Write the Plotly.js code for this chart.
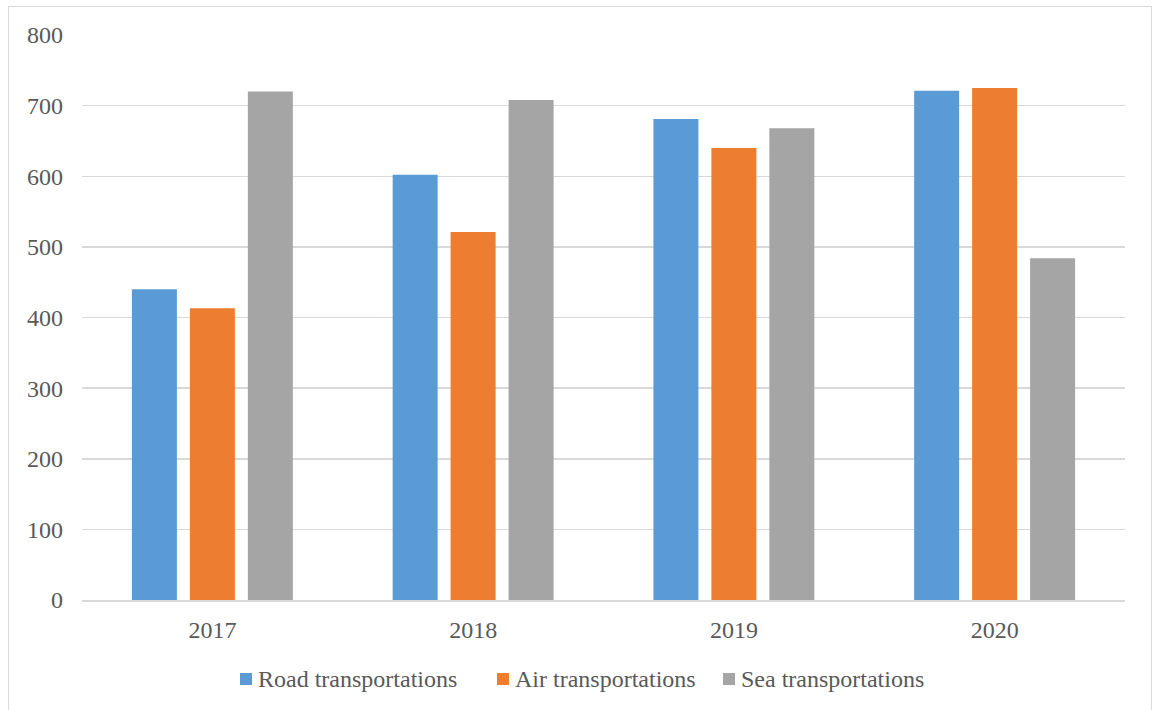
<!DOCTYPE html>
<html><head><meta charset="utf-8">
<script src="https://cdn.plot.ly/plotly-3.0.1.min.js"></script>
<style>
html,body{margin:0;padding:0;background:#fff;}
#frame{position:absolute;left:8px;top:6px;width:1144px;height:720px;border:1px solid #d9d9d9;box-sizing:border-box;pointer-events:none;z-index:5;}
#chart{position:absolute;left:0;top:0;width:1154px;height:710px;}
</style></head>
<body>
<div id="chart"></div>
<div id="frame"></div>
<script>
const years = ['2017','2018','2019','2020'];
const road = [440, 602, 681, 721];
const air = [413, 521, 640, 725];
const sea = [720, 708, 668, 484];
const names = ['Road transportations','Air transportations','Sea transportations'];
const colors = ['#5b9bd5','#ed7d31','#a5a5a5'];
const series = [road, air, sea];
const traces = series.map((s,i)=>({type:'bar', x:years, y:s, name:names[i], marker:{color:colors[i]}, showlegend:false}));

// custom legend (small squares close to text, like the original)
const L = 82, R = 1125, T = 35, B = 600;
const px2x = p => (p - L) / (R - L);
const py2y = p => (B - p) / (B - T);
const legendSquareLeft = [240, 497, 723];
const shapes = [], annotations = [];
names.forEach((n,i)=>{
  const x0 = legendSquareLeft[i];
  shapes.push({type:'rect', xref:'paper', yref:'paper', x0:px2x(x0), x1:px2x(x0+12), y0:py2y(685), y1:py2y(673), fillcolor:colors[i], line:{width:0}});
  annotations.push({xref:'paper', yref:'paper', x:px2x(x0+16), y:py2y(679), xanchor:'left', yanchor:'middle', text:n, showarrow:false, font:{size:24,color:'#595959'}});
});

const layout = {
  width:1154, height:710,
  margin:{l:L, r:1154-R, t:T, b:710-B},
  paper_bgcolor:'rgba(0,0,0,0)', plot_bgcolor:'#fff',
  barmode:'group', bargap:0.333, bargroupgap:0.224,
  font:{family:'Liberation Serif, Times New Roman, serif', size:24, color:'#595959'},
  xaxis:{type:'category', showgrid:false, showline:true, linecolor:'#d9d9d9', linewidth:1.5, ticks:'', ticklabelstandoff:8, tickfont:{size:24,color:'#595959'}},
  yaxis:{range:[0,800], dtick:100, showgrid:true, gridcolor:'#d9d9d9', gridwidth:1.5, zeroline:false, showline:false, ticks:'', ticklabelstandoff:18, tickfont:{size:24,color:'#595959'}},
  showlegend:false,
  shapes: shapes,
  annotations: annotations
};
Plotly.newPlot('chart', traces, layout, {displayModeBar:false, staticPlot:true});
</script>
</body></html>
